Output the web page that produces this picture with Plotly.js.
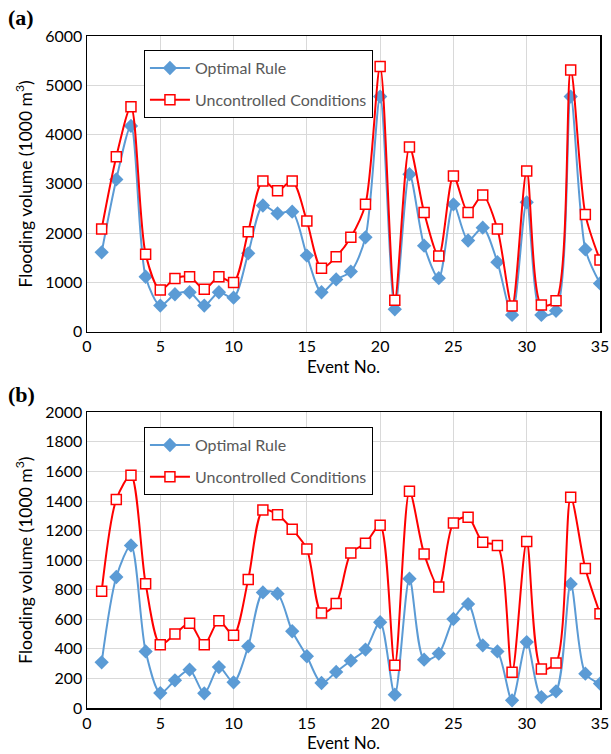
<!DOCTYPE html>
<html>
<head>
<meta charset="utf-8">
<script src="https://cdn.plot.ly/plotly-3.0.1.min.js"></script>
<style>
html,body{margin:0;padding:0;background:#fff;}
#chart{width:611px;height:754px;}
</style>
</head>
<body>
<div id="chart"></div>
<script>
// Event numbers
const events = [1,2,3,4,5,6,7,8,9,10,11,12,13,14,15,16,17,18,19,20,21,22,23,24,25,26,27,28,29,30,31,32,33,34,35];

// Panel (a) flooding volume (1000 m3)
const optimalA = [1610,3090,4175,1115,530,760,800,530,800,690,1590,2560,2400,2435,1545,800,1060,1220,1915,4770,455,3195,1745,1085,2585,1850,2110,1410,340,2625,340,425,4770,1670,980];
const uncontrolledA = [2085,3550,4565,1570,845,1080,1115,860,1115,1000,2030,3060,2860,3060,2245,1285,1520,1915,2585,5380,640,3750,2420,1535,3160,2420,2775,2085,520,3260,540,630,5310,2380,1455];

// Panel (b) flooding volume (1000 m3)
const optimalB = [309,886,1100,383,101,187,259,99,277,174,417,782,773,519,350,169,244,320,395,580,90,875,327,368,602,703,424,383,52,446,74,113,839,232,165];
const uncontrolledB = [789,1411,1574,841,428,500,573,428,591,492,870,1339,1308,1209,1075,643,706,1048,1114,1236,289,1466,1042,818,1251,1290,1121,1100,241,1127,264,304,1425,943,638];

const seriesNames = ["Optimal Rule", "Uncontrolled Conditions"];
const panelLabels = ["(a)", "(b)"];
const xTitle = "Event No.";
const yTitle = "Flooding volume (1000 m<sup>3</sup>)";

const blue = "#5B9BD5";
const red = "#FF0000";
const font = "Lato, 'Open Sans', sans-serif";

function optTrace(y, xa, ya, leg, show) {
  return {x: events, y: y, xaxis: xa, yaxis: ya, name: seriesNames[0], legend: leg,
    legendgroup: leg + "o", showlegend: show, type: "scatter", mode: "lines+markers",
    line: {color: blue, width: 2, shape: "spline", smoothing: 0.8},
    marker: {symbol: "diamond", size: 11, color: blue, line: {width: 0}}};
}
function uncTrace(y, xa, ya, leg, show) {
  return {x: events, y: y, xaxis: xa, yaxis: ya, name: seriesNames[1], legend: leg,
    legendgroup: leg + "u", showlegend: show, type: "scatter", mode: "lines+markers",
    line: {color: red, width: 2, shape: "spline", smoothing: 0.8},
    marker: {symbol: "square", size: 10, color: "#FFFFFF", line: {color: red, width: 1.5}}};
}

const data = [
  optTrace(optimalA, "x", "y", "legend", true),
  uncTrace(uncontrolledA, "x", "y", "legend", true),
  optTrace(optimalB, "x2", "y2", "legend2", true),
  uncTrace(uncontrolledB, "x2", "y2", "legend2", true)
];

const xbase = {range: [0, 35], dtick: 5, tick0: 0, showgrid: true, gridcolor: "#D9D9D9", gridwidth: 1,
  showline: true, linecolor: "#000", linewidth: 1.5, mirror: true, ticks: "", zeroline: false,
  ticklabeloverflow: "allow",
  tickfont: {family: font, size: 16, color: "#000"},
  title: {text: xTitle, font: {family: font, size: 17, color: "#000"}, standoff: 6}};
function ybase(max, dt, dom) {
  return {range: [0, max], dtick: dt, tick0: 0, domain: dom, showgrid: true, gridcolor: "#D9D9D9", gridwidth: 1,
    showline: true, linecolor: "#000", linewidth: 1.5, mirror: true, ticks: "", zeroline: false,
    ticklabeloverflow: "allow",
    tickfont: {family: font, size: 16, color: "#000"},
    title: {text: yTitle, font: {family: font, size: 17.5, color: "#000"}, standoff: 8}};
}
const legBase = {bordercolor: "#000", borderwidth: 1, bgcolor: "#FFFFFF", xanchor: "left", yanchor: "top",
  font: {family: font, size: 16, color: "#595959"}, tracegroupgap: 8, traceorder: "grouped", itemwidth: 40};

const layout = {
  width: 611, height: 754, paper_bgcolor: "#fff", plot_bgcolor: "#fff",
  margin: {l: 87, r: 11, t: 36, b: 46},
  showlegend: true,
  xaxis: Object.assign({}, xbase, {anchor: "y"}),
  yaxis: ybase(6000, 1000, [0.56, 1]),
  xaxis2: Object.assign({}, xbase, {anchor: "y2"}),
  yaxis2: ybase(2000, 200, [0, 0.44]),
  legend: Object.assign({}, legBase, {x: 0.111, y: 0.979}),
  legend2: Object.assign({}, legBase, {x: 0.111, y: 0.418}),
  annotations: [
    {text: "<b>" + panelLabels[0] + "</b>", xref: "paper", yref: "paper", x: -0.158, y: 1.027, xanchor: "left", yanchor: "middle", showarrow: false,
      font: {family: "'Liberation Serif', 'DejaVu Serif', serif", size: 22, color: "#000"}},
    {text: "<b>" + panelLabels[1] + "</b>", xref: "paper", yref: "paper", x: -0.158, y: 0.466, xanchor: "left", yanchor: "middle", showarrow: false,
      font: {family: "'Liberation Serif', 'DejaVu Serif', serif", size: 22, color: "#000"}}
  ]
};

Plotly.newPlot("chart", data, layout, {displayModeBar: false, staticPlot: true});
</script>
</body>
</html>
